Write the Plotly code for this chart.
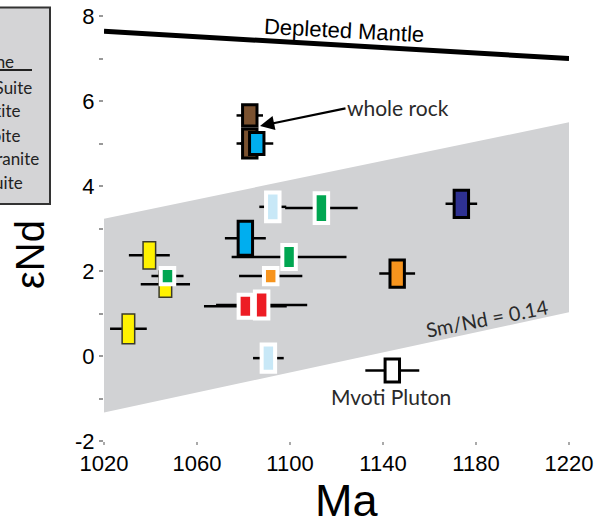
import plotly.graph_objects as go

# --- Nd isotope data: crystallisation age (Ma) and initial epsilon-Nd ---
AGE = [1030.5, 1039.5, 1046.4, 1047.3, 1080.8, 1080.8, 1087.8, 1090.7, 1091.7,
       1099.6, 1092.6, 1113.5, 1146.1, 1144.0, 1173.7, 1082.7, 1082.7, 1085.7]
AGE_ERR = [7.9, 8.8, 10.6, 6.9, 8.8, 17.8, 19.6, 6.6, 13.6,
           24.7, 5.8, 15.6, 7.7, 11.6, 6.8, 5.7, 5.7, 7.1]
END = [0.64, 2.37, 1.69, 1.88, 2.77, 1.17, 1.20, -0.05, 1.88,
       2.33, 3.51, 3.48, 1.94, -0.34, 3.58, 5.66, 5.00, 5.00]
END_ERR = [0.35, 0.32, 0.31, 0.19, 0.40, 0.27, 0.32, 0.32, 0.19,
           0.28, 0.34, 0.35, 0.32, 0.27, 0.32, 0.25, 0.34, 0.26]
UNIT = ["U1", "U1", "U1", "U2", "U3", "U4", "U4", "U5", "U6",
        "U2", "U5", "U2", "U7", "U8", "U9", "U10", "U10", "U3"]

# Depleted mantle evolution and Sm/Nd = 0.14 crustal envelope
DM_AGE = [1020, 1220]
DM_END = [7.64, 7.00]
BAND_AGE = [1020, 1220]
BAND_UPPER = [3.23, 5.50]
BAND_LOWER = [-1.33, 1.03]

X_TICKS = [1020, 1060, 1100, 1140, 1180, 1220]
Y_TICKS = [-2, 0, 2, 4, 6, 8]
Y_TICK_TEXT = ["-2", "0", "2", "4", "6", "8"]
Y_MINOR = [-1, 1, 3, 5, 7]

# Legend entries (only their tails fall inside the page)
LEGEND_HEAD = "Terrane"
LEGEND_ITEMS = ["Mzumbe Suite", "Charnockite", "Enderbite", "Sikombe Granite", "Equeefa Suite"]

# ---------------- styles ----------------
STYLE = {
    "U1": dict(fill="#fff200", edge="#3a3a2a", lw=1.5, hw=2.7),
    "U2": dict(fill="#00a651", edge="white", lw=4, hw=2.9),
    "U3": dict(fill="#00aeef", edge="black", lw=3, hw=3.1),
    "U4": dict(fill="#ed1c24", edge="white", lw=4, hw=2.9),
    "U5": dict(fill="#c8e8f7", edge="white", lw=4, hw=2.9),
    "U6": dict(fill="#f7941d", edge="white", lw=4, hw=2.9),
    "U7": dict(fill="#f7941d", edge="black", lw=3, hw=3.1),
    "U8": dict(fill="#ffffff", edge="black", lw=3, hw=3.1),
    "U9": dict(fill="#2e3192", edge="black", lw=3, hw=3.1),
    "U10": dict(fill="#7b5230", edge="black", lw=3, hw=3.1),
}

W, H = 598, 524
ML, MR, MT, MB = 104, 29, 16, 83
PW, PH = W - ML - MR, H - MT - MB


def px(xp):
    return (xp - ML) / PW


def py(yp):
    return (H - MB - yp) / PH


AX_FONT = "Liberation Sans, Arial, sans-serif"
LB_FONT = "Lato, Open Sans, sans-serif"

fig = go.Figure()

fig.add_trace(go.Scatter(
    x=BAND_AGE + BAND_AGE[::-1], y=BAND_UPPER + BAND_LOWER[::-1],
    fill="toself", fillcolor="#d1d2d4", mode="lines",
    line=dict(color="rgba(0,0,0,0)", width=0), hoverinfo="skip", showlegend=False))

fig.add_trace(go.Scatter(
    x=DM_AGE, y=DM_END, mode="lines", line=dict(color="black", width=5),
    hoverinfo="skip", showlegend=False))

fig.add_trace(go.Scatter(
    x=AGE, y=END, mode="markers",
    marker=dict(size=1, color="rgba(0,0,0,0)"),
    error_x=dict(type="data", array=AGE_ERR, color="black", thickness=2.5, width=0),
    hoverinfo="skip", showlegend=False))

shapes = []
for a, e, de, u in zip(AGE, END, END_ERR, UNIT):
    st = STYLE[u]
    shapes.append(dict(type="rect", xref="x", yref="y", layer="above",
                       x0=a - st["hw"], x1=a + st["hw"], y0=e - de, y1=e + de,
                       fillcolor=st["fill"], line=dict(color=st["edge"], width=st["lw"])))

# legend frame and header rule
shapes.append(dict(type="rect", xref="paper", yref="paper", layer="above",
                   x0=px(-30), x1=px(50), y0=py(204), y1=py(7.5),
                   fillcolor="#d4d4d6", line=dict(color="#333333", width=2)))
shapes.append(dict(type="line", xref="paper", yref="paper", layer="above",
                   x0=px(-30), x1=px(32), y0=py(70), y1=py(70),
                   line=dict(color="#222222", width=2)))


def label(text, xp, yp, size, family=LB_FONT, color="#2a2a2a", angle=0, xanchor="center"):
    return dict(text=text, xref="paper", yref="paper", x=px(xp), y=py(yp),
                xanchor=xanchor, yanchor="middle", textangle=angle, showarrow=False,
                font=dict(family=family, size=size, color=color))


annotations = []
legend_rows = [(LEGEND_HEAD, 16, 61.5)] + list(zip(LEGEND_ITEMS, [33.5, 22, 22, 41, 24.5],
                                                  [87.3, 110.7, 135, 158.3, 182.7]))
for txt, xr, yc in legend_rows:
    annotations.append(label(txt, xr, yc, 17, color="#222222", xanchor="right"))

annotations += [
    label("Depleted Mantle", 344, 31, 22, family=AX_FONT, color="black", angle=3),
    label("whole rock", 397.5, 107, 21),
    dict(text="", x=px(260), y=py(126), xref="paper", yref="paper",
         showarrow=True, ax=87, ay=-18, arrowhead=2, arrowsize=1.3, arrowwidth=2.2,
         arrowcolor="black"),
    label("Sm/Nd = 0.14", 487, 318, 20, angle=-11),
    label("Mvoti Pluton", 391, 396.5, 21),
    label("Ma", 346, 500, 45, family=AX_FONT, color="black"),
    label("εNd", 30, 255, 40, family=AX_FONT, color="black", angle=-90),
]

fig.update_layout(
    template="none",
    width=W, height=H, autosize=False,
    margin=dict(l=ML, r=MR, t=MT, b=MB, pad=0),
    paper_bgcolor="white", plot_bgcolor="white",
    showlegend=False, shapes=shapes, annotations=annotations,
    xaxis=dict(range=[1020, 1220], tickvals=X_TICKS, ticks="outside", ticklen=3,
               tickwidth=2, tickcolor="#aaaaaa", showgrid=False, zeroline=False,
               showline=False, automargin=False,
               tickfont=dict(family=AX_FONT, size=22, color="black")),
    yaxis=dict(range=[-2, 8], tickvals=Y_TICKS, ticktext=Y_TICK_TEXT, ticks="outside",
               ticklen=4, tickwidth=1.5, tickcolor="#999999", showgrid=False,
               zeroline=False, showline=False, automargin=False,
               tickfont=dict(family=AX_FONT, size=22, color="black"),
               minor=dict(tickvals=Y_MINOR, ticks="outside", ticklen=4, tickwidth=1.5,
                          tickcolor="#999999", showgrid=False)),
)

fig.write_html("out.html")
